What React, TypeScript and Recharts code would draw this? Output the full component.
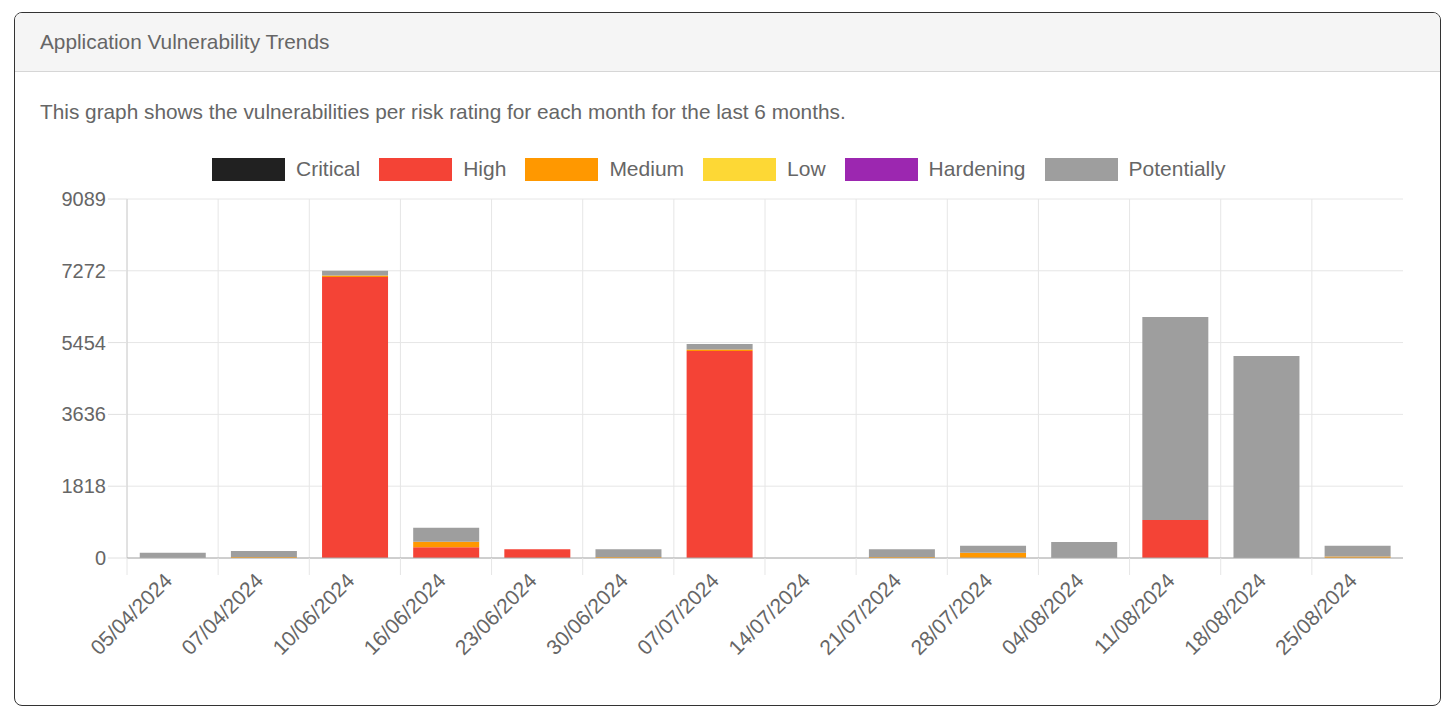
import React from "react";
import {
  BarChart,
  Bar,
  CartesianGrid,
  XAxis,
  YAxis,
  Legend,
} from "recharts";

const categories = [
  "05/04/2024",
  "07/04/2024",
  "10/06/2024",
  "16/06/2024",
  "23/06/2024",
  "30/06/2024",
  "07/07/2024",
  "14/07/2024",
  "21/07/2024",
  "28/07/2024",
  "04/08/2024",
  "11/08/2024",
  "18/08/2024",
  "25/08/2024",
];

const critical = [0, 0, 0, 0, 0, 0, 0, 0, 0, 0, 0, 0, 0, 0];
const high = [0, 0, 7115, 270, 220, 0, 5240, 0, 0, 0, 0, 962, 0, 0];
const medium = [0, 25, 35, 142, 0, 25, 40, 0, 25, 134, 0, 0, 0, 40];
const low = [0, 0, 0, 0, 0, 0, 0, 0, 0, 0, 0, 0, 0, 0];
const hardening = [0, 0, 0, 0, 0, 0, 0, 0, 0, 0, 0, 0, 0, 0];
const potentially = [134, 152, 125, 355, 0, 195, 135, 0, 195, 177, 405, 5140, 5115, 271];

const yTicks = [0, 1818, 3636, 5454, 7272, 9089];

const series = [
  { key: "Critical", color: "#212121" },
  { key: "High", color: "#F44336" },
  { key: "Medium", color: "#FF9800" },
  { key: "Low", color: "#FDD835" },
  { key: "Hardening", color: "#9C27B0" },
  { key: "Potentially", color: "#9E9E9E" },
];

const data = categories.map((name, i) => ({
  name,
  Critical: critical[i],
  High: high[i],
  Medium: medium[i],
  Low: low[i],
  Hardening: hardening[i],
  Potentially: potentially[i],
}));

const FONT = '"Liberation Sans", Arial, sans-serif';
const BAND = (1403 - 127) / categories.length;

const XTick = ({ x, y, payload }: any) => (
  <g transform={`translate(${x},${y})`}>
    <line x1={-BAND / 2} y1={0} x2={-BAND / 2} y2={17} stroke="#e6e6e6" />
    <text
      x={0}
      y={0}
      transform="translate(-3,20) rotate(-45)"
      textAnchor="end"
      dominantBaseline="middle"
      fill="#666"
      fontSize={21}
      fontFamily={FONT}
    >
      {payload.value}
    </text>
  </g>
);

const renderLegend = () => (
  <div
    style={{
      display: "flex",
      alignItems: "center",
      paddingLeft: 212,
      fontFamily: FONT,
      fontSize: 21,
      color: "#666",
      height: 24,
    }}
  >
    {series.map((s) => (
      <div key={s.key} style={{ display: "flex", alignItems: "center", marginRight: 19 }}>
        <span
          style={{
            display: "inline-block",
            width: 73,
            height: 23,
            background: s.color,
            marginRight: 11,
          }}
        />
        <span>{s.key}</span>
      </div>
    ))}
  </div>
);

export default function App() {
  return (
    <div
      style={{
        position: "absolute",
        left: 0,
        top: 0,
        width: 1453,
        height: 715,
        background: "#fff",
        fontFamily: FONT,
      }}
    >
      <div
        style={{
          position: "absolute",
          left: 14,
          top: 12,
          width: 1427,
          height: 694,
          border: "1px solid #333",
          borderRadius: 8,
          boxSizing: "border-box",
          overflow: "hidden",
        }}
      >
        <div
          style={{
            height: 59,
            background: "#f5f5f5",
            borderBottom: "1px solid #d6d6d6",
            boxSizing: "border-box",
            display: "flex",
            alignItems: "center",
            paddingLeft: 25,
            fontSize: 20.8,
            color: "#666",
          }}
        >
          Application Vulnerability Trends
        </div>
        <div
          style={{
            position: "absolute",
            left: 25,
            top: 87,
            fontSize: 20.8,
            color: "#666",
          }}
        >
          This graph shows the vulnerabilities per risk rating for each month for the last 6 months.
        </div>
      </div>
      <div style={{ position: "absolute", left: 0, top: 140 }}>
        <BarChart
          width={1453}
          height={575}
          data={data}
          margin={{ top: 35, right: 50, left: 0, bottom: 0 }}
          barCategoryGap="14%"
        >
          <CartesianGrid
            stroke="#e6e6e6"
            verticalCoordinatesGenerator={({ offset }: any) =>
              categories.map((_, i) => offset.left + (i * offset.width) / categories.length)
            }
          />
          <Legend
            verticalAlign="top"
            content={renderLegend}
            wrapperStyle={{ top: 17, left: 0, width: 1453 }}
          />
          <YAxis
            width={127}
            domain={[0, 9089]}
            ticks={yTicks}
            interval={0}
            axisLine={{ stroke: "#d0d0d0" }}
            tickLine={{ stroke: "#e0e0e0" }}
            tickSize={19}
            tickMargin={2}
            tick={{ fill: "#666", fontSize: 20, fontFamily: FONT }}
          />
          <XAxis
            dataKey="name"
            interval={0}
            height={157}
            axisLine={{ stroke: "#aaa" }}
            tickLine={false}
            tickSize={0}
            tickMargin={0}
            tick={<XTick />}
          />
          {series.map((s) => (
            <Bar
              key={s.key}
              dataKey={s.key}
              stackId="a"
              fill={s.color}
              isAnimationActive={false}
            />
          ))}
        </BarChart>
      </div>
    </div>
  );
}
